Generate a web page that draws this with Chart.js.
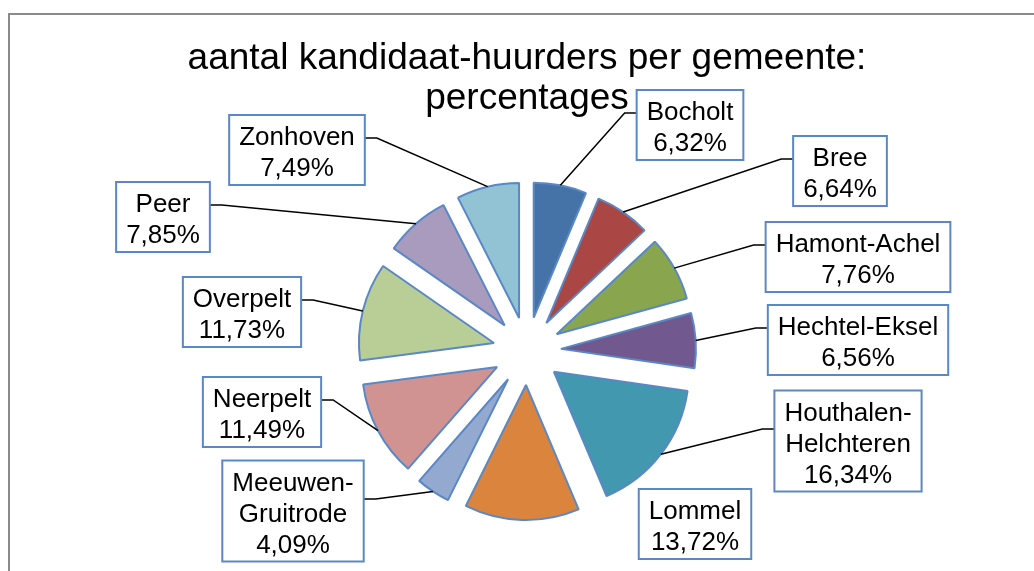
<!DOCTYPE html>
<html>
<head>
<meta charset="utf-8">
<script src="https://cdn.jsdelivr.net/npm/chart.js@4.4.1/dist/chart.umd.min.js"></script>
<style>
    html, body { margin: 0; padding: 0; background: #fff; overflow: hidden; }
    #wrap { width: 1034px; height: 571px; }
</style>
</head>
<body>
<div id="wrap"><canvas id="pieChart" width="1034" height="571"></canvas></div>
<script>
// data
const titleLines = ['aantal kandidaat-huurders per gemeente:', 'percentages'];
const gemeenten = ['Bocholt', 'Bree', 'Hamont-Achel', 'Hechtel-Eksel', 'Houthalen-Helchteren', 'Lommel',
    'Meeuwen-Gruitrode', 'Neerpelt', 'Overpelt', 'Peer', 'Zonhoven'];
const percentages = [6.32, 6.64, 7.76, 6.56, 16.34, 13.72, 4.09, 11.49, 11.73, 7.85, 7.49];

// styling and layout
const sliceColors = ['#4572A7', '#AA4643', '#89A54E', '#71588F', '#4198AF', '#DB843D',
    '#93A9CF', '#D19392', '#B9CD96', '#A99BBD', '#91C3D5'];
// label box centres, relative to the pie centre
const labelOffsets = [[163, -226], [313, -180], [331, -94], [331, -11], [321, 90], [168, 173],
    [-234, 160], [-265, 61], [-285, -39], [-364, -134], [-230, -201]];
const showLeader = [true, true, true, true, true, false, true, true, true, true, true];
const EXPLODE = 34;
const FONT = '"Liberation Sans", Arial, sans-serif';
const BLUE = '#5A88C6';

function fmtPct(v) {
    return v.toFixed(2).replace('.', ',') + '%';
}

function splitName(ctx, name) {
    if (ctx.measureText(name).width > 180 && name.indexOf('-') > 0) {
        const i = name.indexOf('-');
        return [name.slice(0, i + 1), name.slice(i + 1)];
    }
    return [name];
}

// move every slice out from the centre by the same distance
const explodePlugin = {
    id: 'explode',
    afterDatasetsUpdate(chart) {
        chart.getDatasetMeta(0).data.forEach(arc => {
            const mid = (arc.startAngle + arc.endAngle) / 2;
            arc.x += Math.cos(mid) * EXPLODE;
            arc.y += Math.sin(mid) * EXPLODE;
        });
    }
};

const framePlugin = {
    id: 'frame',
    beforeDraw(chart) {
        const ctx = chart.ctx;
        ctx.save();
        ctx.strokeStyle = '#8a8a8a';
        ctx.lineWidth = 2;
        ctx.strokeRect(9, 14, 1200, 800);
        ctx.restore();
    },
    afterDraw(chart) {
        const ctx = chart.ctx;
        const cx = (chart.chartArea.left + chart.chartArea.right) / 2;
        ctx.save();
        ctx.font = `37px ${FONT}`;
        ctx.fillStyle = '#000';
        ctx.textAlign = 'center';
        ctx.textBaseline = 'alphabetic';
        titleLines.forEach((t, i) => ctx.fillText(t, cx, 69 + i * 40));
        ctx.restore();
    }
};

const labelPlugin = {
    id: 'boxLabels',
    afterDatasetsDraw(chart) {
        const ctx = chart.ctx;
        const meta = chart.getDatasetMeta(0);
        const cx = (chart.chartArea.left + chart.chartArea.right) / 2;
        const cy = (chart.chartArea.top + chart.chartArea.bottom) / 2;
        ctx.save();
        ctx.font = `26px ${FONT}`;
        meta.data.forEach((arc, i) => {
            const lines = splitName(ctx, gemeenten[i]);
            lines.push(fmtPct(percentages[i]));
            const w = Math.max(...lines.map(l => ctx.measureText(l).width)) + 20;
            const h = 39 + 31 * (lines.length - 1);
            const bx = cx + labelOffsets[i][0] - w / 2;
            const by = cy + labelOffsets[i][1] - h / 2;

            if (showLeader[i]) {
                const mid = (arc.startAngle + arc.endAngle) / 2;
                const ex = arc.x + Math.cos(mid) * arc.outerRadius;
                const ey = arc.y + Math.sin(mid) * arc.outerRadius;
                const onRight = labelOffsets[i][0] > 0;
                const sx = onRight ? bx : bx + w;
                const sy = by + h / 2 - 12;
                ctx.beginPath();
                ctx.moveTo(sx, sy);
                ctx.lineTo(sx + (onRight ? -12 : 12), sy);
                ctx.lineTo(ex, ey);
                ctx.strokeStyle = '#000';
                ctx.lineWidth = 1.5;
                ctx.stroke();
            }

            ctx.fillStyle = '#fff';
            ctx.fillRect(bx, by, w, h);
            ctx.strokeStyle = BLUE;
            ctx.lineWidth = 2;
            ctx.strokeRect(bx, by, w, h);

            ctx.fillStyle = '#000';
            ctx.textAlign = 'center';
            ctx.textBaseline = 'alphabetic';
            lines.forEach((l, j) => ctx.fillText(l, bx + w / 2, by + 30 + j * 31));
        });
        ctx.restore();
    }
};

const chart = new Chart(document.getElementById('pieChart'), {
    type: 'pie',
    data: {
        labels: gemeenten,
        datasets: [{
            data: percentages,
            backgroundColor: sliceColors,
            borderColor: BLUE,
            borderWidth: 2,
            borderJoinStyle: 'bevel'
        }]
    },
    options: {
        responsive: false,
        animation: false,
        radius: 135,
        layout: { padding: { left: 30, right: 10, top: 141, bottom: 10 } },
        plugins: {
            legend: { display: false },
            tooltip: { enabled: false },
            title: { display: false }
        }
    },
    plugins: [framePlugin, explodePlugin, labelPlugin]
});
</script>
</body>
</html>
